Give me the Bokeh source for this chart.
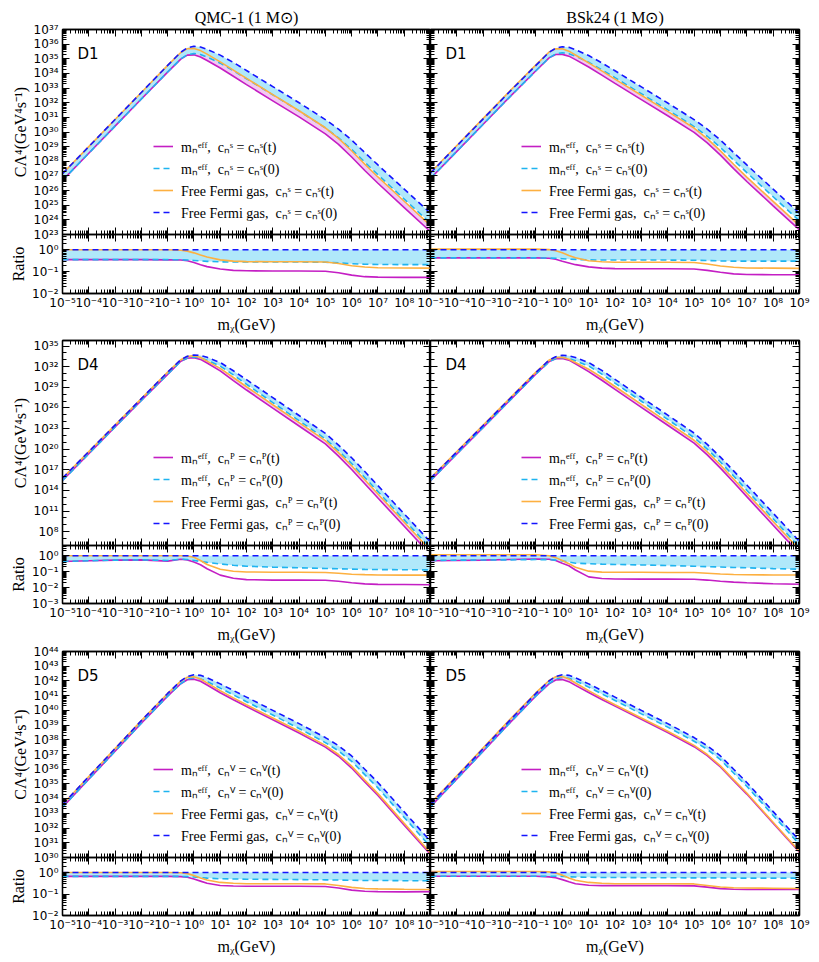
from bokeh.plotting import figure
from bokeh.layouts import row, column
from bokeh.models import (Range1d, LogAxis, FixedTicker, CustomJSTickFormatter,
                          Legend, LegendItem, Label, ColumnDataSource)
from bokeh.embed import file_html
from bokeh.resources import INLINE

# ---------------- data ----------------
MASS_LOG10 = [-5, -4, -3, -2, -1, -0.5, -0.25, 0, 0.25, 0.5, 1, 1.5, 2, 3, 4, 5,
              5.5, 6, 6.5, 7, 8, 9]

# log10 of C Lambda^4 for "Free Fermi gas, c = c(0)"
QMC_D1_FFG0 = [27.15, 29.0, 30.85, 32.7, 34.55, 35.45, 35.75, 35.85, 35.8, 35.65, 35.25,
               34.75, 34.2, 33.1, 32.0, 30.85, 30.2, 29.45, 28.6, 27.75, 26.1, 24.45]
BSK_D1_FFG0 = [27.2, 29.05, 30.9, 32.75, 34.55, 35.45, 35.72, 35.82, 35.78, 35.62, 35.22,
               34.72, 34.18, 33.08, 31.98, 30.85, 30.2, 29.45, 28.6, 27.75, 26.1, 24.45]
QMC_D4_FFG0 = [15.8, 19.65, 23.5, 27.35, 31.2, 33.0, 33.5, 33.7, 33.62, 33.35, 32.6,
               31.4, 30.1, 27.5, 24.9, 22.3, 20.6, 18.75, 16.75, 14.7, 10.6, 6.5]
BSK_D4_FFG0 = [15.75, 19.6, 23.45, 27.3, 31.15, 32.95, 33.45, 33.65, 33.58, 33.32, 32.6,
               31.45, 30.15, 27.55, 24.95, 22.35, 20.7, 18.85, 16.85, 14.8, 10.7, 6.6]
QMC_D5_FFG0 = [33.6, 35.5, 37.4, 39.3, 41.15, 42.0, 42.3, 42.42, 42.38, 42.22, 41.8,
               41.35, 40.9, 40.0, 39.1, 38.15, 37.6, 36.9, 36.0, 35.1, 33.1, 31.1]
BSK_D5_FFG0 = [33.62, 35.5, 37.4, 39.3, 41.15, 42.0, 42.3, 42.42, 42.38, 42.22, 41.8,
               41.35, 40.9, 40.0, 39.1, 38.15, 37.6, 36.9, 36.0, 35.1, 33.12, 31.15]

# log10 of ratio to "Free Fermi gas, c = c(0)"
QMC_D1_R_MEFF_T = [-0.45, -0.45, -0.45, -0.45, -0.46, -0.47, -0.5, -0.58, -0.68, -0.77, -0.88,
                   -0.94, -0.96, -0.97, -0.97, -0.98, -1.05, -1.16, -1.23, -1.25, -1.26, -1.26]
QMC_D1_R_MEFF_0 = [-0.45, -0.45, -0.45, -0.45, -0.45, -0.46, -0.47, -0.49, -0.51, -0.53, -0.55,
                   -0.56, -0.56, -0.56, -0.56, -0.57, -0.6, -0.64, -0.66, -0.67, -0.68, -0.68]
QMC_D1_R_FFG_T = [0, 0, 0, 0, 0, -0.02, -0.06, -0.14, -0.24, -0.33, -0.46,
                  -0.52, -0.54, -0.55, -0.55, -0.56, -0.63, -0.73, -0.79, -0.82, -0.83, -0.84]
BSK_D1_R_MEFF_T = [-0.37, -0.37, -0.37, -0.37, -0.37, -0.39, -0.43, -0.52, -0.6, -0.68, -0.78,
                   -0.84, -0.86, -0.87, -0.87, -0.88, -0.94, -1.03, -1.1, -1.13, -1.14, -1.14]
BSK_D1_R_MEFF_0 = [-0.37, -0.37, -0.37, -0.37, -0.37, -0.38, -0.39, -0.41, -0.43, -0.44, -0.46,
                   -0.47, -0.47, -0.47, -0.47, -0.48, -0.49, -0.51, -0.52, -0.52, -0.52, -0.52]
BSK_D1_R_FFG_T = [0.03, 0.03, 0.03, 0.03, 0.03, 0.01, -0.04, -0.14, -0.26, -0.36, -0.5,
                  -0.55, -0.57, -0.57, -0.57, -0.58, -0.65, -0.74, -0.8, -0.83, -0.84, -0.85]
QMC_D4_R_MEFF_T = [-0.36, -0.32, -0.28, -0.26, -0.34, -0.22, -0.27, -0.4, -0.57, -0.82, -1.22,
                   -1.42, -1.5, -1.53, -1.53, -1.54, -1.6, -1.7, -1.77, -1.8, -1.81, -1.82]
QMC_D4_R_MEFF_0 = [-0.36, -0.32, -0.28, -0.26, -0.3, -0.22, -0.24, -0.3, -0.36, -0.42, -0.52,
                   -0.6, -0.66, -0.72, -0.76, -0.8, -0.82, -0.84, -0.86, -0.87, -0.88, -0.89]
QMC_D4_R_FFG_T = [0, 0, 0, 0, 0, 0, -0.02, -0.1, -0.3, -0.55, -0.85,
                  -0.98, -1.02, -1.04, -1.04, -1.05, -1.1, -1.16, -1.19, -1.21, -1.22, -1.22]
BSK_D4_R_MEFF_T = [-0.32, -0.3, -0.28, -0.24, -0.21, -0.22, -0.3, -0.48, -0.63, -0.9, -1.33,
                   -1.43, -1.46, -1.47, -1.47, -1.48, -1.53, -1.6, -1.66, -1.7, -1.76, -1.79]
BSK_D4_R_MEFF_0 = [-0.3, -0.28, -0.27, -0.26, -0.24, -0.25, -0.28, -0.33, -0.4, -0.47, -0.5,
                   -0.53, -0.55, -0.58, -0.62, -0.66, -0.69, -0.71, -0.74, -0.76, -0.81, -0.85]
BSK_D4_R_FFG_T = [0.06, 0.06, 0.06, 0.06, 0.06, 0.0, -0.12, -0.3, -0.5, -0.72, -0.97,
                  -1.03, -1.04, -1.04, -1.05, -1.05, -1.1, -1.15, -1.18, -1.2, -1.21, -1.21]
QMC_D5_R_MEFF_T = [-0.18, -0.18, -0.18, -0.18, -0.18, -0.19, -0.22, -0.3, -0.4, -0.5, -0.6,
                   -0.63, -0.64, -0.64, -0.64, -0.65, -0.72, -0.82, -0.87, -0.89, -0.9, -0.89]
QMC_D5_R_MEFF_0 = [-0.18, -0.18, -0.18, -0.18, -0.18, -0.18, -0.19, -0.21, -0.24, -0.26, -0.29,
                   -0.3, -0.31, -0.32, -0.33, -0.34, -0.35, -0.36, -0.37, -0.37, -0.38, -0.38]
QMC_D5_R_FFG_T = [0, 0, 0, 0, 0, -0.01, -0.05, -0.14, -0.25, -0.35, -0.46,
                  -0.5, -0.52, -0.52, -0.52, -0.53, -0.6, -0.69, -0.74, -0.76, -0.78, -0.79]
BSK_D5_R_MEFF_T = [-0.17, -0.17, -0.17, -0.17, -0.17, -0.2, -0.24, -0.33, -0.43, -0.52, -0.59,
                   -0.61, -0.61, -0.61, -0.61, -0.62, -0.68, -0.75, -0.78, -0.79, -0.79, -0.79]
BSK_D5_R_MEFF_0 = [-0.17, -0.17, -0.17, -0.17, -0.17, -0.17, -0.17, -0.18, -0.2, -0.21, -0.22,
                   -0.23, -0.23, -0.24, -0.24, -0.25, -0.25, -0.25, -0.26, -0.26, -0.26, -0.26]
BSK_D5_R_FFG_T = [0.05, 0.05, 0.05, 0.05, 0.05, 0.03, -0.02, -0.12, -0.25, -0.36, -0.46,
                  -0.5, -0.52, -0.52, -0.52, -0.53, -0.6, -0.67, -0.71, -0.72, -0.73, -0.74]

COLUMN_TITLES = ["QMC-1 (1 M\u2299)", "BSk24 (1 M\u2299)"]
OPERATORS = ["D1", "D4", "D5"]
OPERATOR_SUP = {"D1": "\u02e2", "D4": "\u1d3e", "D5": "\u2c7d"}

DATA = {
    ("D1", 0): (QMC_D1_FFG0, QMC_D1_R_MEFF_T, QMC_D1_R_MEFF_0, QMC_D1_R_FFG_T),
    ("D1", 1): (BSK_D1_FFG0, BSK_D1_R_MEFF_T, BSK_D1_R_MEFF_0, BSK_D1_R_FFG_T),
    ("D4", 0): (QMC_D4_FFG0, QMC_D4_R_MEFF_T, QMC_D4_R_MEFF_0, QMC_D4_R_FFG_T),
    ("D4", 1): (BSK_D4_FFG0, BSK_D4_R_MEFF_T, BSK_D4_R_MEFF_0, BSK_D4_R_FFG_T),
    ("D5", 0): (QMC_D5_FFG0, QMC_D5_R_MEFF_T, QMC_D5_R_MEFF_0, QMC_D5_R_FFG_T),
    ("D5", 1): (BSK_D5_FFG0, BSK_D5_R_MEFF_T, BSK_D5_R_MEFF_0, BSK_D5_R_FFG_T),
}

# axis ranges (exponents) and major tick steps
MAIN_YLIM = {"D1": (23, 37), "D4": (6, 35.8), "D5": (30, 44)}
MAIN_MAJOR = {"D1": (23, 37, 1), "D4": (8, 35, 3), "D5": (30, 44, 1)}
RATIO_YLIM = {"D1": (-2, 0.7), "D4": (-3, 0.64), "D5": (-2, 0.7)}

# ---------------- styles ----------------
MAG = "#c41ec4"
CYAN = "#1eb4f0"
ORANGE = "#fdb040"
BLUE = "#1414ff"
CYAN_FILL = "#b0e8fa"
PINK_FILL = "#f3c9f3"
SERIF = "Liberation Serif"
SANS = "DejaVu Sans"

SUP_JS = """
const sup = {'-':'\u207b','0':'\u2070','1':'\u00b9','2':'\u00b2','3':'\u00b3','4':'\u2074',
             '5':'\u2075','6':'\u2076','7':'\u2077','8':'\u2078','9':'\u2079'};
const e = Math.round(Math.log10(tick));
if (hide.includes(e)) { return ''; }
let s = '10';
for (const c of String(e)) { s += sup[c]; }
return s;
"""


def log_ticker(lo, hi, step):
    majors = [10.0 ** k for k in range(lo, hi + 1, step)]
    minors = []
    for k in range(lo - step, hi + step + 1):
        if step == 1:
            minors += [m * 10.0 ** k for m in range(2, 10)]
        elif (k - lo) % step != 0:
            minors.append(10.0 ** k)
    return FixedTicker(ticks=majors, minor_ticks=minors)


def style_axis(ax, ticker, labels, hide=()):
    ax.ticker = ticker
    ax.axis_line_color = "black"
    ax.axis_line_width = 1.3
    ax.major_tick_in = 7
    ax.major_tick_out = 0
    ax.minor_tick_in = 4
    ax.minor_tick_out = 0
    ax.major_tick_line_color = "black"
    ax.minor_tick_line_color = "black"
    ax.major_tick_line_width = 1
    ax.minor_tick_line_width = 1
    if labels:
        ax.formatter = CustomJSTickFormatter(args=dict(hide=list(hide)), code=SUP_JS)
        ax.major_label_text_font = SANS
        ax.major_label_text_font_size = "12px"
        ax.major_label_text_color = "black"
        ax.major_label_standoff = 4
    else:
        ax.formatter = CustomJSTickFormatter(code="return '';")
        ax.major_label_text_font_size = "0px"
        ax.major_label_standoff = 0
    ax.axis_label_text_font = SERIF
    ax.axis_label_text_font_size = "16px"
    ax.axis_label_text_font_style = "normal"
    ax.axis_label_text_color = "black"
    ax.axis_label_standoff = 2


def make_fig(ylim, fw, fh, borders, margin, title=None):
    left, right, top, bottom = borders
    kw = {}
    if title is not None:
        kw["title"] = title
    p = figure(frame_width=fw, frame_height=fh, x_axis_type="log", y_axis_type="log",
               x_range=Range1d(1e-5, 1e9), y_range=Range1d(10 ** ylim[0], 10 ** ylim[1]),
               output_backend="svg", toolbar_location=None,
               min_border_left=left, min_border_right=right,
               min_border_top=top, min_border_bottom=bottom, margin=margin, **kw)
    p.xgrid.visible = False
    p.ygrid.visible = False
    p.border_fill_color = None
    p.outline_line_color = "black"
    p.outline_line_width = 1.3
    ax_bottom = p.below[0]
    ax_left = p.left[0]
    ax_top = LogAxis()
    ax_right = LogAxis()
    p.add_layout(ax_top, "above")
    p.add_layout(ax_right, "right")
    if title is not None:
        p.title.text_font = SERIF
        p.title.text_font_size = "16px"
        p.title.text_font_style = "normal"
        p.title.text_color = "black"
        p.title.align = "center"
        p.title.standoff = 8
    return p, ax_bottom, ax_left, ax_top, ax_right


XT = log_ticker(-5, 9, 1)
mass = [10.0 ** v for v in MASS_LOG10]

layout_rows = []
for ri, op in enumerate(OPERATORS):
    s = OPERATOR_SUP[op]
    labels = [
        "m\u2099\u1d49\u1da0\u1da0,  c\u2099%s = c\u2099%s(t)" % (s, s),
        "m\u2099\u1d49\u1da0\u1da0,  c\u2099%s = c\u2099%s(0)" % (s, s),
        "Free Fermi gas,  c\u2099%s = c\u2099%s(t)" % (s, s),
        "Free Fermi gas,  c\u2099%s = c\u2099%s(0)" % (s, s),
    ]
    main_h = 206 if ri == 2 else 205
    ratio_h = 59 if ri == 0 else 58
    ratio_bottom = 45 if ri == 2 else (47 if ri == 0 else 48)
    mains, ratios = [], []
    for ci in (0, 1):
        ffg0_l, r_mt, r_m0, r_ft = DATA[(op, ci)]
        ffg0 = [10.0 ** v for v in ffg0_l]
        rat_mt = [10.0 ** v for v in r_mt]
        rat_m0 = [10.0 ** v for v in r_m0]
        rat_ft = [10.0 ** v for v in r_ft]
        rat_f0 = [1.0 for _ in mass]
        src = ColumnDataSource(dict(
            m=mass, ffg0=ffg0,
            mefft=[a * b for a, b in zip(ffg0, rat_mt)],
            meff0=[a * b for a, b in zip(ffg0, rat_m0)],
            ffgt=[a * b for a, b in zip(ffg0, rat_ft)],
            r_mt=rat_mt, r_m0=rat_m0, r_ft=rat_ft, r_f0=rat_f0))

        fw = 368 if ci == 0 else 369
        lb = 62 if ci == 0 else 16
        rb = 0 if ci == 0 else 16
        mtop = 29 if ri == 0 else 8
        title = COLUMN_TITLES[ci] if ri == 0 else None
        pm, mb, ml, mt, mr = make_fig(MAIN_YLIM[op], fw, main_h, (lb, rb, mtop, 8),
                                      (0, 0, 0, 0 if ci == 0 else -16), title)
        lo, hi, st = MAIN_MAJOR[op]
        yt = log_ticker(lo, hi, st)
        style_axis(mb, XT, False)
        style_axis(mt, XT, False)
        style_axis(ml, yt, ci == 0)
        style_axis(mr, yt, False)
        if ci == 0:
            ml.axis_label = "C\u039b\u2074(GeV\u2074s\u207b\u00b9)"
        pm.varea(x="m", y1="mefft", y2="ffgt", source=src, fill_color=PINK_FILL)
        pm.varea(x="m", y1="meff0", y2="ffg0", source=src, fill_color=CYAN_FILL)
        l1 = pm.line("m", "mefft", source=src, line_color=MAG, line_width=1.6)
        l2 = pm.line("m", "meff0", source=src, line_color=CYAN, line_width=1.6, line_dash="6 4")
        l3 = pm.line("m", "ffgt", source=src, line_color=ORANGE, line_width=1.6)
        l4 = pm.line("m", "ffg0", source=src, line_color=BLUE, line_width=1.6, line_dash="6 4")
        leg = Legend(items=[LegendItem(label=t, renderers=[r]) for t, r in zip(labels, [l1, l2, l3, l4])],
                     location=(91, 12), glyph_width=20, glyph_height=20, label_height=20,
                     spacing=2, padding=0, margin=0, label_standoff=8,
                     background_fill_alpha=0, border_line_alpha=0,
                     label_text_font=SERIF, label_text_font_size="14px", label_text_color="black")
        pm.add_layout(leg)
        pm.add_layout(Label(x=15, y=main_h - 24, x_units="screen", y_units="screen", text=op,
                            text_font=SANS, text_font_size="15px", text_baseline="alphabetic",
                            text_color="black"))

        pr, rbx, rl, rtp, rr = make_fig(RATIO_YLIM[op], fw, ratio_h, (lb, rb, 0, ratio_bottom),
                                        (0, 0, 0, 0 if ci == 0 else -16))
        rlo = int(RATIO_YLIM[op][0])
        rt = log_ticker(rlo, 0, 1)
        style_axis(rbx, XT, True, hide=(9,) if ci == 0 else ())
        style_axis(rtp, XT, False)
        style_axis(rl, rt, ci == 0)
        style_axis(rr, rt, False)
        rbx.major_label_standoff = 2
        rbx.axis_label_standoff = 3
        rbx.axis_label = "m\u1d6a(GeV)"
        if ci == 0:
            rl.axis_label = "Ratio"
        pr.varea(x="m", y1="r_m0", y2="r_f0", source=src, fill_color=CYAN_FILL)
        pr.line("m", "r_mt", source=src, line_color=MAG, line_width=1.6)
        pr.line("m", "r_m0", source=src, line_color=CYAN, line_width=1.6, line_dash="6 4")
        pr.line("m", "r_ft", source=src, line_color=ORANGE, line_width=1.6)
        pr.line("m", "r_f0", source=src, line_color=BLUE, line_width=1.6, line_dash="6 4")
        mains.append(pm)
        ratios.append(pr)
    layout_rows.append(row(mains[0], mains[1], margin=(0 if ri == 0 else -8, 0, 0, 0)))
    layout_rows.append(row(ratios[0], ratios[1], margin=(-8, 0, 0, 0)))

page = column(*layout_rows)
open("out.html", "w").write(file_html(page, INLINE))
